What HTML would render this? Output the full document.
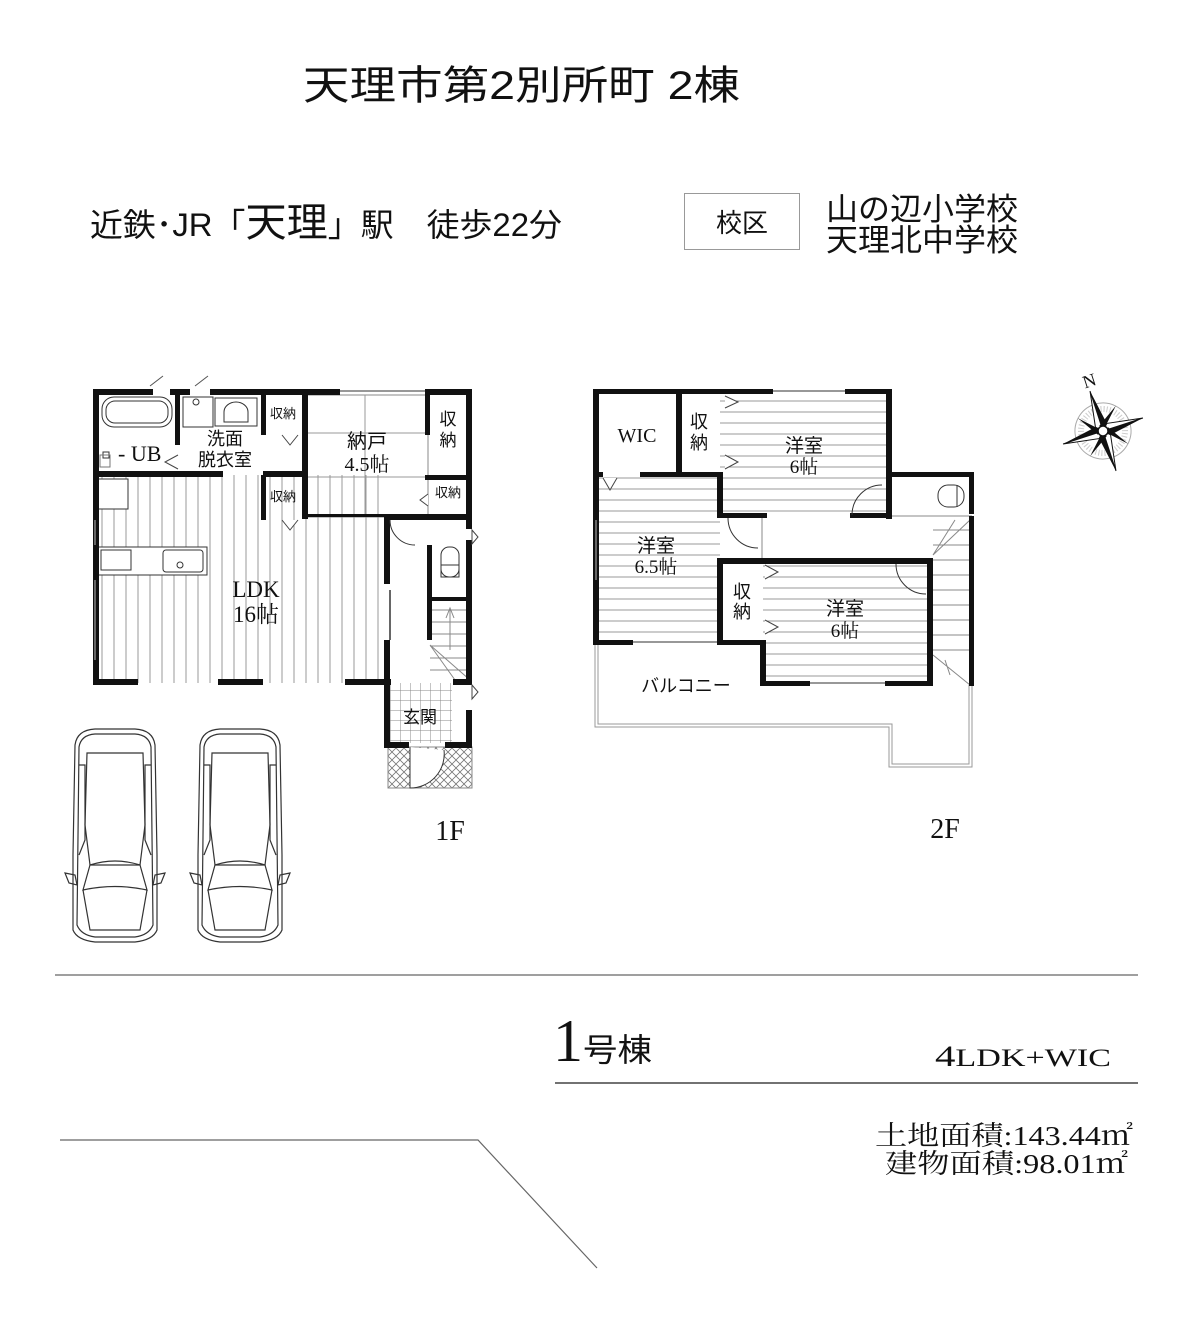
<!DOCTYPE html>
<html><head><meta charset="utf-8"><style>
html,body{margin:0;padding:0;background:#fff;}
svg{display:block;}
text{font-family:"Liberation Sans","Noto Sans CJK JP",sans-serif;fill:#111;}
.sr{font-family:"Liberation Serif","Noto Serif CJK SC",serif;}
</style></head><body>
<svg width="1200" height="1327" viewBox="0 0 1200 1327" xmlns="http://www.w3.org/2000/svg">
<defs>
<pattern id="vs" width="12" height="10" patternUnits="userSpaceOnUse"><line x1="6" y1="0" x2="6" y2="10" stroke="#999" stroke-width="1"/></pattern>
<pattern id="hs" width="10" height="11" patternUnits="userSpaceOnUse"><line x1="0" y1="5" x2="10" y2="5" stroke="#999" stroke-width="1"/></pattern>
<pattern id="grid" width="10" height="10" patternUnits="userSpaceOnUse"><path d="M0 0H10M0 0V10" stroke="#888" stroke-width="1" fill="none"/></pattern>
<pattern id="hatch" width="8" height="8" patternUnits="userSpaceOnUse"><path d="M0 0L8 8M8 0L0 8" stroke="#777" stroke-width="0.8"/></pattern>
<g id="car" fill="none" stroke="#333" stroke-width="1.2">
<path d="M10 20 Q12 5 30 4 L70 4 Q88 5 90 20 L92 130 L92 205 Q88 215 70 217 L30 217 Q12 215 8 205 L8 130 Z"/>
<path d="M14 22 Q16 10 30 9 L70 9 Q84 10 86 22 L88 200 Q84 210 70 212 L30 212 Q16 210 12 200 Z"/>
<path d="M22 28 L78 28 L80 100 L75 140 L25 140 L20 100 Z"/>
<path d="M25 140 Q50 132 75 140 L82 165 Q50 158 18 165 Z"/>
<path d="M18 165 L25 205 L75 205 L82 165"/>
<path d="M14 40 L20 40 L20 115 L14 130 M86 40 L80 40 L80 115 L86 130"/>
<path d="M0 148 L10 150 L12 160 L4 158 Z M100 148 L90 150 L88 160 L96 158 Z"/>
</g>
</defs>

<text x="303" y="99" font-size="40" textLength="437" lengthAdjust="spacingAndGlyphs">天理市第2別所町 2棟</text>
<text x="90" y="236" font-size="32" textLength="472" lengthAdjust="spacingAndGlyphs">近鉄･JR「<tspan font-size="40">天理</tspan>」駅　徒歩22分</text>
<rect x="684.5" y="193.5" width="115" height="56" fill="none" stroke="#999" stroke-width="1"/>
<text x="742" y="232" font-size="26" text-anchor="middle">校区</text>
<text x="826" y="220" font-size="31" textLength="192" lengthAdjust="spacingAndGlyphs">山の辺小学校</text>
<text x="826" y="251" font-size="31" textLength="192" lengthAdjust="spacingAndGlyphs">天理北中学校</text>

<g transform="translate(1103,431) rotate(-18)">
<circle r="28" fill="none" stroke="#aaa" stroke-width="1"/>
<circle r="22" fill="none" stroke="#ccc" stroke-width="6" stroke-dasharray="1 2"/>
<path d="M0 -42 L6 -6 L0 0 Z M0 42 L-6 6 L0 0 Z M-42 0 L-6 -6 L0 0 Z M42 0 L6 6 L0 0 Z" fill="#111"/>
<path d="M0 -42 L-6 -6 L0 0 Z M0 42 L6 6 L0 0 Z M-42 0 L-6 6 L0 0 Z M42 0 L6 -6 L0 0 Z" fill="#fff" stroke="#111"/>
<path d="M-20 -20 L-3 -3 L-6 2 Z M20 20 L3 3 L6 -2 Z M20 -20 L3 -3 L-2 -6 Z M-20 20 L-3 3 L2 6 Z" fill="#111"/>
<circle r="5" fill="#fff" stroke="#111" stroke-width="1.5"/>
<text x="-4" y="-46" font-size="18" class="sr">N</text>
</g>

<!-- ===== 1F ===== -->
<rect x="97" y="475" width="290" height="208" fill="url(#vs)"/>
<rect x="305" y="517" width="82" height="30" fill="url(#vs)"/>
<rect x="305" y="395" width="123" height="122" fill="none" stroke="#888" stroke-width="1"/>
<path d="M365 395V517M305 433H428M305 477H428" stroke="#999" stroke-width="1"/>
<rect x="390" y="683" width="62" height="60" fill="url(#grid)"/>
<rect x="388" y="747" width="84" height="41" fill="url(#hatch)" stroke="#888"/>
<path d="M410 747 V788 A34 34 0 0 0 444 750" fill="#fff" stroke="#333" stroke-width="1"/>
<g stroke="#888" stroke-width="1" fill="none">
<path d="M430 610H470M430 622H470M430 634H470M430 646H470M430 658H470M430 670H470"/>
<path d="M430 645 L470 680 M430 645 L455 680"/>
<path d="M450 650V610 M446 618L450 608L454 618"/>
</g>
<rect x="441" y="547" width="18" height="30" rx="8" fill="none" stroke="#333"/>
<rect x="441" y="565" width="18" height="12" fill="none" stroke="#333"/>
<rect x="102" y="397" width="70" height="30" rx="12" fill="none" stroke="#333"/>
<rect x="106" y="401" width="62" height="22" rx="9" fill="none" stroke="#333"/>
<text x="118" y="461" font-size="22" class="sr">- UB</text>
<rect x="103" y="452" width="6" height="6" fill="none" stroke="#333"/>
<rect x="100" y="455" width="10" height="12" fill="none" stroke="#777"/>
<rect x="183" y="397" width="30" height="30" fill="none" stroke="#333"/>
<circle cx="196" cy="402" r="3" fill="none" stroke="#333"/>
<rect x="215" y="398" width="42" height="28" fill="none" stroke="#333"/>
<path d="M224 422 V412 A12 10 0 0 1 248 412 V422 Z" fill="none" stroke="#333"/>
<rect x="97" y="547" width="110" height="28" fill="#fff" stroke="#333"/>
<rect x="101" y="550" width="30" height="20" fill="none" stroke="#333"/>
<rect x="163" y="550" width="40" height="22" rx="3" fill="none" stroke="#333"/>
<circle cx="180" cy="565" r="3" fill="none" stroke="#333"/>
<rect x="98" y="479" width="30" height="30" fill="#fff" stroke="#333"/>
<g fill="#111">
<rect x="93" y="389" width="6" height="296"/>
<rect x="93" y="389" width="60" height="6"/><rect x="170" y="389" width="20" height="6"/><rect x="210" y="389" width="130" height="6"/><rect x="425" y="389" width="47" height="6"/>
<rect x="466" y="389" width="6" height="130"/>
<rect x="93" y="679" width="45" height="6"/><rect x="218" y="679" width="45" height="6"/><rect x="345" y="679" width="46" height="6"/>
<rect x="93" y="471" width="130" height="6"/><rect x="263" y="471" width="42" height="6"/>
<rect x="175" y="395" width="5" height="50"/>
<rect x="261" y="395" width="5" height="40"/><rect x="261" y="475" width="5" height="45"/>
<rect x="302" y="389" width="6" height="130"/>
<rect x="425" y="395" width="5" height="40"/>
<rect x="425" y="475" width="47" height="5"/>
<rect x="385" y="514" width="87" height="6"/><rect x="305" y="514" width="80" height="3"/>
<rect x="384" y="514" width="6" height="70"/><rect x="384" y="640" width="6" height="108"/>
<rect x="427" y="545" width="5" height="95"/>
<rect x="432" y="597" width="38" height="4"/>
<rect x="466" y="519" width="6" height="10"/><rect x="466" y="540" width="6" height="140"/><rect x="466" y="710" width="6" height="38"/>
<rect x="384" y="679" width="6" height="6"/><rect x="453" y="679" width="19" height="6"/>
<rect x="384" y="742" width="25" height="6"/><rect x="445" y="742" width="27" height="6"/>
</g>
<path d="M95 520V545M95 580V660M390 590V640" stroke="#666" stroke-width="2"/>
<path d="M340 391H425" stroke="#777" stroke-width="1.5"/>
<g fill="#fff" stroke="#444" stroke-width="1">
<path d="M472 530L478 537L472 544Z"/><path d="M472 685L478 692L472 699Z"/>
<path d="M282 435L290 445L298 435"/><path d="M282 520L290 530L298 520"/>
<path d="M428 494L420 500L428 506"/>
<path d="M178 455L165 462L178 469"/>
<path d="M150 386L163 376M195 386L208 376" stroke="#555"/>
</g>
<path d="M390 520 A25 25 0 0 0 415 545" fill="none" stroke="#333"/>
<text x="225" y="445" font-size="18" text-anchor="middle">洗面</text>
<text x="225" y="466" font-size="18" text-anchor="middle">脱衣室</text>
<text x="283" y="418" font-size="13" text-anchor="middle">収納</text>
<text x="283" y="501" font-size="13" text-anchor="middle">収納</text>
<text x="448" y="497" font-size="13" text-anchor="middle">収納</text>
<text x="448" y="425" font-size="17" text-anchor="middle">収</text>
<text x="448" y="446" font-size="17" text-anchor="middle">納</text>
<text x="367" y="448" font-size="20" text-anchor="middle">納戸</text>
<text x="367" y="471" font-size="20" text-anchor="middle" class="sr">4.5帖</text>
<text x="256" y="597" font-size="23" text-anchor="middle" class="sr">LDK</text>
<text x="256" y="622" font-size="23" text-anchor="middle" class="sr">16帖</text>
<text x="420" y="723" font-size="17" text-anchor="middle">玄関</text>
<text x="450" y="840" font-size="28" text-anchor="middle" class="sr">1F</text>

<use href="#car" transform="translate(65,725)"/>
<use href="#car" transform="translate(190,725)"/>

<!-- ===== 2F ===== -->
<rect x="720" y="395" width="166" height="120" fill="url(#hs)"/>
<rect x="598" y="477" width="122" height="165" fill="url(#hs)"/>
<rect x="763" y="560" width="167" height="122" fill="url(#hs)"/>
<path d="M595 643 V727 H889 V767 H972 V685 M598 643 V724 H892 V764 H969 V685" fill="none" stroke="#999" stroke-width="1"/>
<g stroke="#888" stroke-width="1" fill="none">
<path d="M933 530H970M933 545H970M933 560H970M933 575H970M933 590H970M933 605H970M933 620H970M933 635H970M933 650H970"/>
<path d="M933 555L970 520M933 555L955 520M933 655L970 685M945 660L950 675"/>
<path d="M890 516H972"/>
<path d="M728 516V520M762 516V558"/>
</g>
<rect x="938" y="485" width="26" height="22" rx="10" fill="none" stroke="#333"/>
<path d="M957 485V507" stroke="#333"/>
<g fill="#111">
<rect x="593" y="389" width="6" height="256"/>
<rect x="593" y="389" width="180" height="5"/><rect x="845" y="389" width="47" height="5"/>
<rect x="886" y="389" width="6" height="130"/>
<rect x="676" y="394" width="6" height="80"/>
<rect x="593" y="472" width="10" height="5"/><rect x="640" y="472" width="80" height="5"/>
<rect x="717" y="472" width="6" height="45"/>
<rect x="717" y="513" width="50" height="5"/><rect x="850" y="513" width="40" height="5"/>
<rect x="889" y="472" width="85" height="5"/>
<rect x="969" y="472" width="5" height="42"/><rect x="969" y="516" width="5" height="170"/>
<rect x="717" y="558" width="215" height="6"/>
<rect x="717" y="558" width="6" height="87"/>
<rect x="927" y="558" width="6" height="128"/>
<rect x="593" y="640" width="40" height="5"/><rect x="717" y="640" width="48" height="5"/>
<rect x="760" y="640" width="6" height="46"/>
<rect x="760" y="681" width="50" height="5"/><rect x="885" y="681" width="48" height="5"/>
</g>
<path d="M773 391H845M633 642H717M810 683H885" stroke="#777" stroke-width="1.5"/>
<g fill="#fff" stroke="#444" stroke-width="1">
<path d="M725 396L738 402L725 408"/><path d="M725 455L738 462L725 469"/>
<path d="M765 565L778 572L765 579"/><path d="M765 620L778 627L765 634"/>
<path d="M603 478L610 490L617 478"/>
</g>
<path d="M596 520V580" stroke="#666" stroke-width="2"/>
<path d="M852 515 A30 30 0 0 1 882 485 M728 518 A30 30 0 0 0 758 548 M896 564 A30 30 0 0 0 926 594" fill="none" stroke="#333"/>
<text x="637" y="442" font-size="20" text-anchor="middle" class="sr">WIC</text>
<text x="699" y="428" font-size="18" text-anchor="middle">収</text>
<text x="699" y="449" font-size="18" text-anchor="middle">納</text>
<text x="804" y="452" font-size="19" text-anchor="middle">洋室</text>
<text x="804" y="473" font-size="19" text-anchor="middle" class="sr">6帖</text>
<text x="656" y="552" font-size="19" text-anchor="middle">洋室</text>
<text x="656" y="573" font-size="19" text-anchor="middle" class="sr">6.5帖</text>
<text x="742" y="598" font-size="18" text-anchor="middle">収</text>
<text x="742" y="618" font-size="18" text-anchor="middle">納</text>
<text x="845" y="615" font-size="19" text-anchor="middle">洋室</text>
<text x="845" y="637" font-size="19" text-anchor="middle" class="sr">6帖</text>
<text x="686" y="692" font-size="18" text-anchor="middle">バルコニー</text>
<text x="945" y="838" font-size="28" text-anchor="middle" class="sr">2F</text>

<line x1="55" y1="975" x2="1138" y2="975" stroke="#666" stroke-width="1.2"/>
<line x1="555" y1="1083" x2="1138" y2="1083" stroke="#444" stroke-width="1.5"/>
<path d="M60 1140 H478 L597 1268" fill="none" stroke="#666" stroke-width="1.2"/>
<text x="553" y="1061" font-size="60" class="sr">1</text>
<text x="583" y="1061" font-size="32" textLength="69" lengthAdjust="spacingAndGlyphs">号棟</text>
<text x="935" y="1066" font-size="30" class="sr" textLength="176" lengthAdjust="spacingAndGlyphs">4<tspan font-size="25">LDK+WIC</tspan></text>
<text x="875" y="1145" font-size="27" class="sr" textLength="258" lengthAdjust="spacingAndGlyphs">土地面積:143.44㎡</text>
<text x="885" y="1173" font-size="27" class="sr" textLength="243" lengthAdjust="spacingAndGlyphs">建物面積:98.01㎡</text>
</svg>
</body></html>
